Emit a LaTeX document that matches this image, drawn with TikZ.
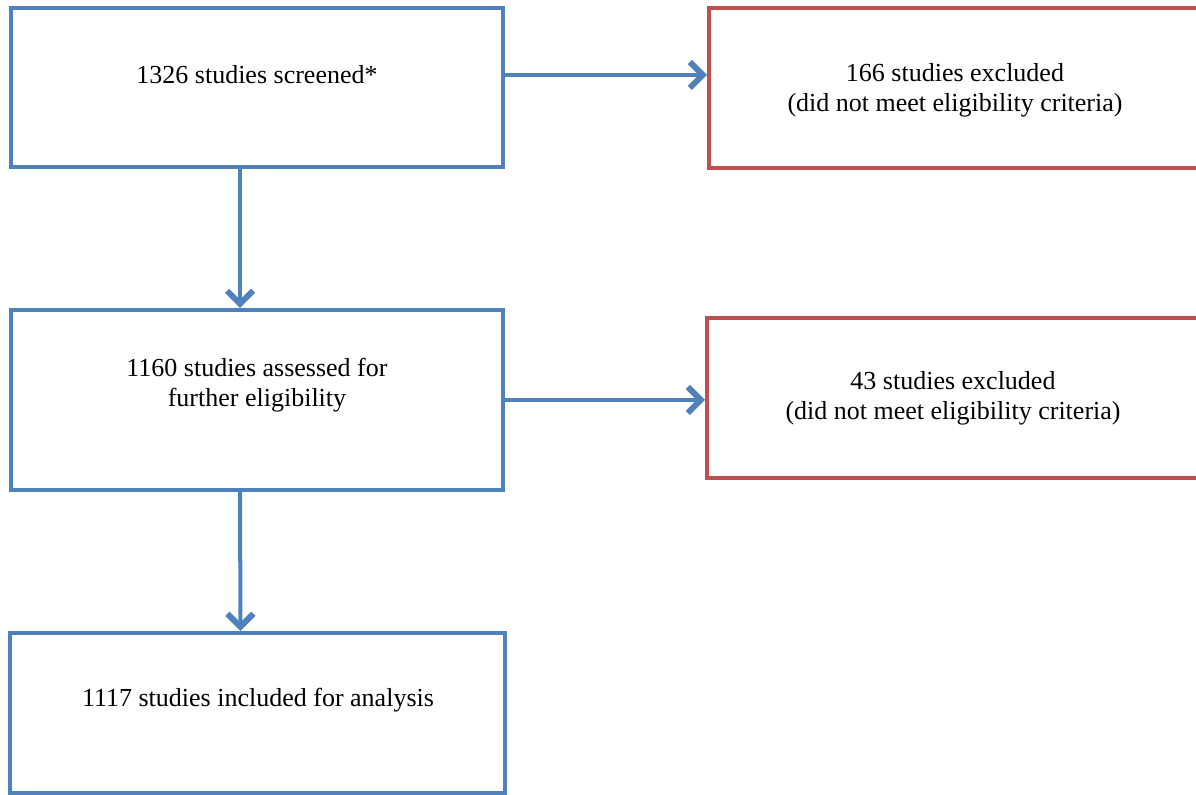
\documentclass[tikz,border=0pt]{standalone}
\usepackage{fontspec}
\setmainfont{Liberation Serif}
\usetikzlibrary{arrows.meta}
\definecolor{boxblue}{RGB}{79,129,189}
\definecolor{boxred}{RGB}{192,80,77}
\tikzset{
  bluebox/.style={draw=boxblue, line width=2pt, minimum width=246pt},
  redbox/.style={draw=boxred, line width=2pt, minimum width=246pt, minimum height=80pt},
  txt/.style={align=center, inner sep=0pt},
  flow/.style={draw=boxblue, line width=2pt, -{Straight Barb[length=6.5pt,width=13pt,line width=3pt]}}
}
\begin{document}
\begin{tikzpicture}[x=0.5pt, y=-0.5pt, font=\fontsize{13}{15}\selectfont]
      \useasboundingbox (0,0) rectangle (1196,795);
      % boxes
      \node[bluebox, minimum height=79.5pt] (screened) at (257,87.5) {};
      \node[redbox] (excl1) at (955,88) {};
      \node[bluebox, minimum height=90pt] (assessed) at (257,400) {};
      \node[redbox] (excl2) at (953,398) {};
      \node[bluebox, minimum height=80pt, minimum width=247.5pt] (included) at (257.5,713) {};
      % texts
      \node[txt] (t1) at (257,75) {1326 studies screened*};
      \node[txt] (t2) at (955,90) {166 studies excluded\\(did not meet eligibility criteria)};
      \node[txt] (t3) at (257,385) {1160 studies assessed for\\further eligibility};
      \node[txt] (t4) at (953,398) {43 studies excluded\\(did not meet eligibility criteria)};
      \node[txt] (t5) at (258,700) {1117 studies included for analysis};
      % arrows
      \draw[flow] (screened.east |- t1) -- (excl1.west |- t1);
      \draw[flow] (assessed.east) -- (excl2.west |- assessed.east);
      \draw[flow] ([xshift=-8.5pt]screened.south) -- ([xshift=-8.5pt]assessed.north);
      \draw[flow] ([xshift=-8.5pt]assessed.south) -- ([xshift=-8.5pt]included.north);
    \end{tikzpicture}
\end{document}
